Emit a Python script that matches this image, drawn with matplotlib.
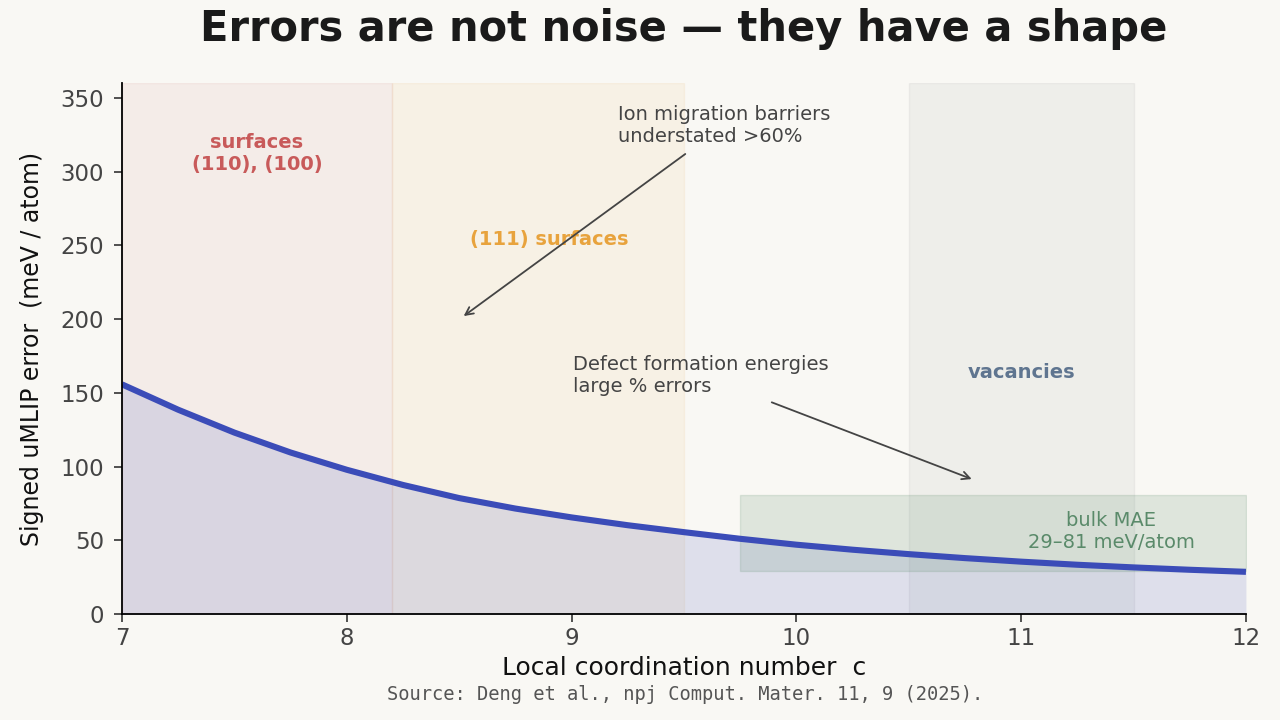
import matplotlib
matplotlib.use('Agg')
import matplotlib.pyplot as plt

plt.rcParams['font.family'] = ['DejaVu Sans']

# coordination number and signed error
coord = [7.0, 7.25, 7.5, 7.75, 8.0, 8.25, 8.5, 8.75, 9.0, 9.25, 9.5,
         9.75, 10.0, 10.25, 10.5, 10.75, 11.0, 11.25, 11.5, 11.75, 12.0]
error = [155.7, 138.5, 123.0, 109.5, 97.8, 87.5, 78.6, 71.5, 65.5, 60.2, 55.5,
         51.0, 47.0, 43.6, 40.6, 37.9, 35.5, 33.4, 31.6, 30.0, 28.6]

# shaded regimes (start, end)
surf_110_100 = (7.0, 8.2)
surf_111 = (8.2, 9.5)
vacancies = (10.5, 11.5)

# bulk MAE band
bulk_c = (9.75, 12.0)
bulk_mae = (29, 81)

BG = '#f9f8f4'
CURVE = '#3b4cb8'

fig = plt.figure(figsize=(12.8, 7.2), dpi=100, facecolor=BG)
ax = fig.add_axes([0.0953, 0.1472, 0.8781, 0.7375])
ax.set_facecolor(BG)

ax.axvspan(*surf_110_100, facecolor='#c0504d', alpha=0.07, edgecolor='#c0504d', lw=1)
ax.axvspan(*surf_111, facecolor='#e8a33d', alpha=0.08, edgecolor='#e8a33d', lw=1)
ax.axvspan(*vacancies, facecolor='#8a8a8a', alpha=0.09, edgecolor='#8a8a8a', lw=1)

ax.fill_between(coord, 0, error, color=CURVE, alpha=0.14, lw=0)
ax.plot(coord, error, color=CURVE, lw=4.4, solid_joinstyle='round', solid_capstyle='butt')

ax.fill_between(bulk_c, bulk_mae[0], bulk_mae[1], facecolor='#5a8a6a', alpha=0.17,
                edgecolor='#5a8a6a', lw=1)

ax.text(7.6, 312, 'surfaces\n(110), (100)', color='#c85a5a', fontsize=14,
        fontweight='bold', ha='center', va='center', linespacing=1.2)
ax.text(8.9, 254, '(111) surfaces', color='#e8a33d', fontsize=14,
        fontweight='bold', ha='center', va='center')
ax.text(11.0, 164, 'vacancies', color='#5f7590', fontsize=14,
        fontweight='bold', ha='center', va='center')
ax.text(11.4, 56, 'bulk MAE\n29\u201381 meV/atom', color='#5a8a6a', fontsize=14,
        ha='center', va='center', linespacing=1.2)

ax.annotate('Ion migration barriers\nunderstated >60%', xy=(8.52, 202), xytext=(9.205, 331),
            fontsize=14, color='#444444', ha='left', va='center', linespacing=1.2,
            arrowprops=dict(arrowstyle='->', color='#444444', lw=1.3, shrinkA=6, shrinkB=0))
ax.annotate('Defect formation energies\nlarge % errors', xy=(10.78, 91.5), xytext=(9.006, 162),
            fontsize=14, color='#444444', ha='left', va='center', linespacing=1.2,
            arrowprops=dict(arrowstyle='->', color='#444444', lw=1.3, shrinkA=8, shrinkB=0))

ax.set_xlim(7, 12)
ax.set_ylim(0, 360)
ax.set_yticks([0, 50, 100, 150, 200, 250, 300, 350])
for s in ['top', 'right']:
    ax.spines[s].set_visible(False)
ax.spines['left'].set_linewidth(1.3)
ax.spines['bottom'].set_linewidth(1.3)
ax.tick_params(labelsize=16.5, colors='#444444', length=6, width=1.1)
ax.tick_params(axis='both', color='#222222')
ax.tick_params(axis='y', pad=7)

ax.set_xlabel('Local coordination number  c', fontsize=18, color='#111111', labelpad=4)
ax.set_ylabel('Signed uMLIP error  (meV / atom)', fontsize=17, color='#111111', labelpad=12)

fig.text(0.534, 0.960, 'Errors are not noise \u2014 they have a shape', fontsize=30,
         fontweight='bold', color='#1a1a1a', ha='center', va='center')
fig.text(0.535, 0.035, 'Source: Deng et al., npj Comput. Mater. 11, 9 (2025).',
         family='DejaVu Sans Mono', fontsize=13.5, color='#555555', ha='center', va='center')

fig.savefig('out.png', dpi=100, facecolor=BG)
